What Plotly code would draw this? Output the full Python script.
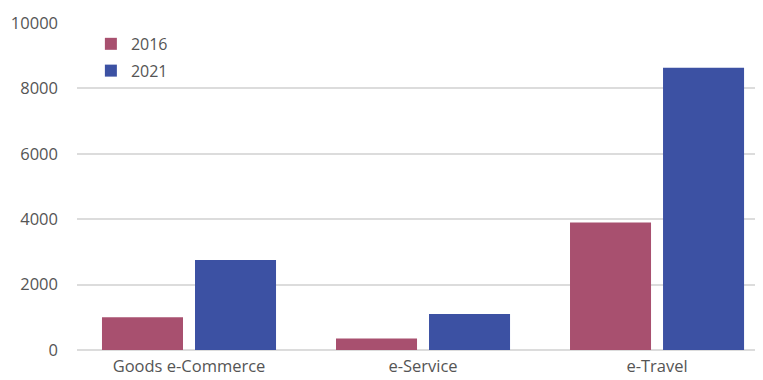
import plotly.graph_objects as go

categories = ["Goods e-Commerce", "e-Service", "e-Travel"]
values_2016 = [1000, 350, 3900]
values_2021 = [2750, 1100, 8630]
y_ticks = [0, 2000, 4000, 6000, 8000, 10000]
y_tick_labels = ["0", "2000", "4000", "6000", "8000", "10000"]

fig = go.Figure()
fig.add_trace(go.Bar(x=categories, y=values_2016, name="2016", marker_color="#a8506f",
                     marker_line_width=0, legendgroup="a"))
fig.add_trace(go.Bar(x=categories, y=values_2021, name="2021", marker_color="#3c51a3",
                     marker_line_width=0, legendgroup="b"))

fig.update_layout(
    width=763, height=380,
    margin=dict(l=69, r=0, t=14, b=38, autoexpand=False),
    paper_bgcolor="white", plot_bgcolor="white",
    barmode="group", bargap=0.205, bargroupgap=0.129,
    font=dict(family="Open Sans, Noto Sans, sans-serif", size=16, color="#555555"),
    legend=dict(x=0.02, y=0.985, xanchor="left", yanchor="top",
                traceorder="grouped", tracegroupgap=3,
                font=dict(size=16, color="#555555"), bgcolor="rgba(0,0,0,0)"),
    xaxis=dict(range=[-0.4786, 2.487], showgrid=False, showline=False, ticks="",
               tickfont=dict(size=16.5), ticklabelstandoff=4, automargin=False),
    yaxis=dict(range=[0, 10030], tickvals=y_ticks, ticktext=y_tick_labels,
               showgrid=True, gridcolor="#dcdcdc",
               gridwidth=1.5, zeroline=True, zerolinecolor="#dcdcdc", zerolinewidth=1.5,
               ticks="", ticklabelstandoff=18, tickfont=dict(size=16.5), automargin=False),
)

fig.write_html("out.html")
